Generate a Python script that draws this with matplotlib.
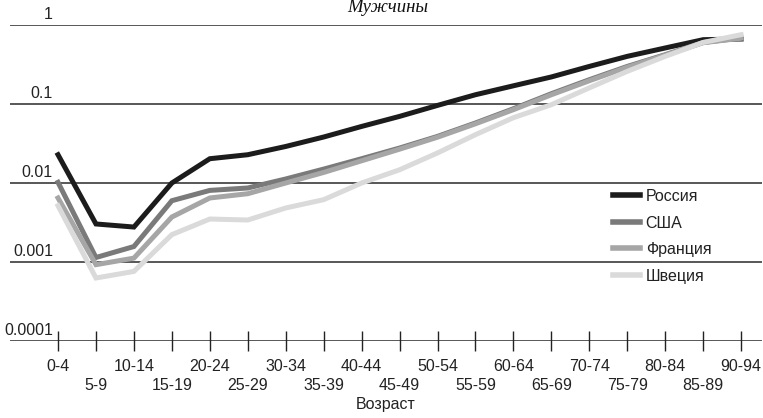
import matplotlib
matplotlib.use("Agg")
import matplotlib.pyplot as plt
import matplotlib.transforms as mtransforms

plt.rcParams["font.family"] = ["Liberation Sans", "DejaVu Sans"]

ages = ["0-4", "5-9", "10-14", "15-19", "20-24", "25-29", "30-34", "35-39",
        "40-44", "45-49", "50-54", "55-59", "60-64", "65-69", "70-74",
        "75-79", "80-84", "85-89", "90-94"]

russia = [0.0228, 0.00303, 0.00277, 0.0100, 0.0203, 0.0228, 0.0290, 0.0382,
          0.0520, 0.0697, 0.0960, 0.131, 0.170, 0.220, 0.299, 0.401, 0.512,
          0.652, 0.665]
usa = [0.0102, 0.00114, 0.00157, 0.00597, 0.00806, 0.00865, 0.01124, 0.0150,
       0.0203, 0.0277, 0.0389, 0.0575, 0.0871, 0.135, 0.203, 0.299, 0.421,
       0.602, 0.684]
france = [0.00646, 0.000925, 0.00112, 0.00371, 0.00646, 0.00732, 0.0100,
          0.0136, 0.0191, 0.0268, 0.0380, 0.0562, 0.0848, 0.131, 0.197,
          0.292, 0.415, 0.597, 0.680]
sweden = [0.00516, 0.000627, 0.00076, 0.00222, 0.0035, 0.0034, 0.00483,
          0.00615, 0.0100, 0.0147, 0.0240, 0.0409, 0.0671, 0.098, 0.160,
          0.259, 0.401, 0.602, 0.754]

series = [("Россия", russia, "#1c1c1c"),
          ("США", usa, "#7a7a7a"),
          ("Франция", france, "#a6a6a6"),
          ("Швеция", sweden, "#dadada")]

yticks = [0.0001, 0.001, 0.01, 0.1, 1]
ytick_labels = ["0.0001", "0.001", "0.01", "0.1", "1"]

W, H = 763, 418
fig = plt.figure(figsize=(W / 100, H / 100), dpi=100)
left, right, top, bottom = 10, 762, 25, 341
ax = fig.add_axes([left / W, 1 - bottom / H, (right - left) / W, (bottom - top) / H])

x = list(range(len(ages)))
for name, vals, col in series:
    ax.plot(x, vals, color=col, lw=3.6, label=name, solid_joinstyle="miter")

ax.set_yscale("log")
ax.set_ylim(1e-4, 1)
ax.set_xlim(-1.265, 18.55)

for s in ax.spines.values():
    s.set_visible(False)
for yv in yticks:
    ax.axhline(yv, color="#2a2a2a", lw=1.1, zorder=0)

ax.set_yticks([])
ax.yaxis.set_minor_locator(matplotlib.ticker.NullLocator())

fs = 11.5
even = [i for i in x if i % 2 == 0]
odd = [i for i in x if i % 2 == 1]
ax.set_xticks(even)
ax.set_xticklabels([ages[i] for i in even], fontsize=fs, color="#222222")
ax.set_xticks(odd, minor=True)
ax.set_xticklabels([ages[i] for i in odd], minor=True, fontsize=fs, color="#222222")
ax.tick_params(axis="x", which="both", direction="inout", length=15, width=1.0,
               color="#222222")
ax.tick_params(axis="x", which="major", pad=5.5)
ax.tick_params(axis="x", which="minor", pad=19.5)

trans = mtransforms.blended_transform_factory(ax.transAxes, ax.transData)
for yv, lab in zip(yticks, ytick_labels):
    ax.annotate(lab, xy=((53 - left) / (right - left), yv), xycoords=trans,
                xytext=(0, 2), textcoords="offset points",
                ha="right", va="bottom", fontsize=fs, color="#222222")

fig.text(388 / W, 1 - 8 / H, "Мужчины", ha="center", va="center",
         fontsize=13.5, style="italic", family="Liberation Serif", color="#111111")
fig.text(386 / W, 1 - 404 / H, "Возраст", ha="center", va="center",
         fontsize=fs, color="#222222")

leg = ax.legend(loc="upper left", bbox_to_anchor=(613 / W, 1 - 189 / H),
                bbox_transform=fig.transFigure, frameon=False, borderpad=0,
                borderaxespad=0, handlelength=1.7, handletextpad=0.35,
                labelspacing=0.72, fontsize=fs)
for t in leg.get_texts():
    t.set_color("#222222")
for l in leg.get_lines():
    l.set_linewidth(4)

fig.savefig("out.png", dpi=100)
